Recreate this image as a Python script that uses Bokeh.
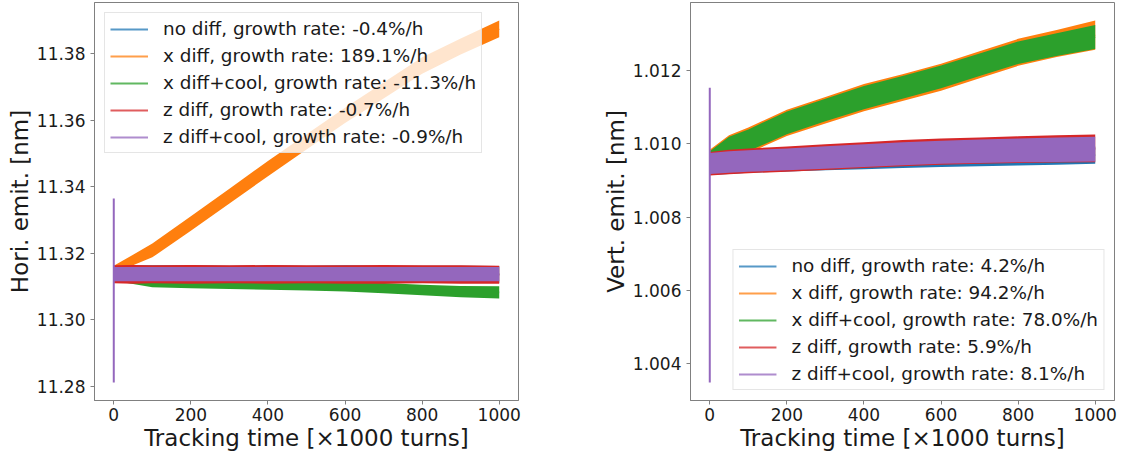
from bokeh.plotting import figure
from bokeh.models import Range1d, FixedTicker, PrintfTickFormatter, Legend, LegendItem
from bokeh.layouts import row
from bokeh.embed import file_html
from bokeh.resources import INLINE

# ---------------- data ----------------
t = [0, 50, 100, 200, 300, 400, 500, 600, 700, 800, 900, 1000]   # x1000 turns

labels_h = ["no diff, growth rate: -0.4%/h",
            "x diff, growth rate: 189.1%/h",
            "x diff+cool, growth rate: -11.3%/h",
            "z diff, growth rate: -0.7%/h",
            "z diff+cool, growth rate: -0.9%/h"]
labels_v = ["no diff, growth rate: 4.2%/h",
            "x diff, growth rate: 94.2%/h",
            "x diff+cool, growth rate: 78.0%/h",
            "z diff, growth rate: 5.9%/h",
            "z diff+cool, growth rate: 8.1%/h"]
colors = ["#1f77b4", "#ff7f0e", "#2ca02c", "#d62728", "#9467bd"]

# Horizontal emittance [nm]: lower / upper envelope of the noisy traces
blue_lo_h   = [11.3113, 11.3112, 11.3112, 11.3112, 11.3111, 11.3112, 11.3111, 11.3112, 11.3111, 11.3112, 11.3111, 11.3111]
blue_hi_h   = [11.3163, 11.3164, 11.3164, 11.3164, 11.3163, 11.3164, 11.3163, 11.3164, 11.3163, 11.3163, 11.3163, 11.3162]
orange_lo_h = [11.3153, 11.3164, 11.3188, 11.3268, 11.3350, 11.3432, 11.3512, 11.3592, 11.3666, 11.3740, 11.3798, 11.3850]
orange_hi_h = [11.3163, 11.3196, 11.3230, 11.3312, 11.3394, 11.3478, 11.3558, 11.3638, 11.3714, 11.3790, 11.3846, 11.3900]
green_lo_h  = [11.3118, 11.3108, 11.3098, 11.3095, 11.3093, 11.3091, 11.3088, 11.3085, 11.3080, 11.3074, 11.3068, 11.3064]
green_hi_h  = [11.3150, 11.3146, 11.3130, 11.3126, 11.3124, 11.3122, 11.3120, 11.3116, 11.3111, 11.3106, 11.3102, 11.3101]
red_lo_h    = [11.3110, 11.3109, 11.3110, 11.3109, 11.3110, 11.3109, 11.3110, 11.3109, 11.3109, 11.3110, 11.3109, 11.3109]
red_hi_h    = [11.3164, 11.3165, 11.3164, 11.3165, 11.3164, 11.3165, 11.3164, 11.3164, 11.3165, 11.3164, 11.3164, 11.3163]
purple_lo_h = [11.3116, 11.3116, 11.3116, 11.3116, 11.3116, 11.3116, 11.3116, 11.3116, 11.3116, 11.3116, 11.3116, 11.3116]
purple_hi_h = [11.3159, 11.3159, 11.3159, 11.3159, 11.3159, 11.3159, 11.3159, 11.3159, 11.3159, 11.3159, 11.3159, 11.3159]
spike_t = [0, 0]
spike_h = [11.2812, 11.3365]

# Vertical emittance [nm]
blue_lo_v   = [1.00915, 1.00918, 1.00921, 1.00925, 1.00928, 1.00931, 1.00934, 1.00937, 1.00939, 1.00941, 1.00943, 1.00946]
blue_hi_v   = [1.00972, 1.00973, 1.00975, 1.00977, 1.00979, 1.00981, 1.00983, 1.00985, 1.00987, 1.00989, 1.00991, 1.00993]
orange_lo_v = [1.00942, 1.00958, 1.00975, 1.01022, 1.01056, 1.01090, 1.01118, 1.01146, 1.01180, 1.01214, 1.01238, 1.01258]
orange_hi_v = [1.00984, 1.01024, 1.01045, 1.01094, 1.01129, 1.01164, 1.01191, 1.01220, 1.01254, 1.01288, 1.01312, 1.01338]
green_lo_v  = [1.00945, 1.00962, 1.00980, 1.01027, 1.01062, 1.01095, 1.01124, 1.01153, 1.01186, 1.01219, 1.01241, 1.01260]
green_hi_v  = [1.00980, 1.01020, 1.01040, 1.01089, 1.01124, 1.01159, 1.01186, 1.01215, 1.01248, 1.01281, 1.01303, 1.01326]
red_lo_v    = [1.00914, 1.00917, 1.00920, 1.00924, 1.00929, 1.00934, 1.00939, 1.00943, 1.00946, 1.00948, 1.00949, 1.00950]
red_hi_v    = [1.00978, 1.00984, 1.00988, 1.00993, 1.00999, 1.01005, 1.01011, 1.01015, 1.01018, 1.01021, 1.01024, 1.01026]
purple_lo_v = [1.00918, 1.00921, 1.00924, 1.00928, 1.00932, 1.00937, 1.00942, 1.00946, 1.00948, 1.00950, 1.00951, 1.00952]
purple_hi_v = [1.00975, 1.00980, 1.00983, 1.00988, 1.00994, 1.00999, 1.01005, 1.01009, 1.01012, 1.01015, 1.01018, 1.01020]
spike_v = [1.00347, 1.01154]

xticks = [0, 200, 400, 600, 800, 1000]
yticks_h = [11.28, 11.30, 11.32, 11.34, 11.36, 11.38]
yticks_v = [1.004, 1.006, 1.008, 1.010, 1.012]

FONT = "DejaVu Sans"
FRAME = "#808080"


def panel(width, border_left, border_right, bands, spike, labels, yticks, yfmt, ylabel, legend_loc):
    all_vals = [v for lo, hi in bands for v in lo + hi] + spike
    ymin, ymax = min(all_vals), max(all_vals)
    pad = 0.05 * (ymax - ymin)
    p = figure(width=width, height=457, output_backend="svg", toolbar_location=None,
               x_range=Range1d(-50, 1050), y_range=Range1d(ymin - pad, ymax + pad),
               min_border_left=border_left, min_border_right=border_right,
               min_border_top=2, min_border_bottom=57)
    p.background_fill_color = "white"
    p.border_fill_color = "white"
    p.outline_line_color = FRAME
    p.outline_line_width = 1
    p.xgrid.visible = False
    p.ygrid.visible = False

    items = []
    for (lo, hi), col, lab in zip(bands, colors, labels):
        mid = [(a + b) / 2 for a, b in zip(lo, hi)]
        r = p.line(t, mid, line_color=col, line_width=1.8, line_alpha=0.75)
        p.varea(x=t, y1=lo, y2=hi, fill_color=col, fill_alpha=1.0)
        items.append(LegendItem(label=lab, renderers=[r]))
    p.line(spike_t, spike, line_color=colors[4], line_width=2)

    p.xaxis.ticker = FixedTicker(ticks=xticks)
    p.yaxis.ticker = FixedTicker(ticks=yticks)
    p.yaxis.formatter = PrintfTickFormatter(format=yfmt)
    p.xaxis.axis_label = "Tracking time [\u00d71000 turns]"
    p.yaxis.axis_label = ylabel
    for ax in (p.xaxis[0], p.yaxis[0]):
        ax.axis_line_color = FRAME
        ax.major_tick_line_color = FRAME
        ax.major_tick_out = 4
        ax.major_tick_in = 0
        ax.minor_tick_line_color = None
        ax.major_label_text_font = FONT
        ax.major_label_text_font_size = "17px"
        ax.major_label_text_color = "#1a1a1a"
        ax.axis_label_text_font = FONT
        ax.axis_label_text_font_size = "23px"
        ax.axis_label_text_font_style = "normal"
        ax.axis_label_text_color = "#1a1a1a"
    p.xaxis.major_label_standoff = 3
    p.xaxis.axis_label_standoff = 1
    p.yaxis.major_label_standoff = 5
    p.yaxis.axis_label_standoff = 1

    leg = Legend(items=items, location=legend_loc)
    leg.label_text_font = FONT
    leg.label_text_font_size = "18.4px"
    leg.label_text_color = "#1a1a1a"
    leg.glyph_width = 38
    leg.glyph_height = 20
    leg.label_height = 20
    leg.label_standoff = 15
    leg.spacing = 6
    leg.padding = 5
    leg.margin = 10
    leg.border_line_color = "#cccccc"
    leg.border_line_width = 1
    leg.background_fill_color = "white"
    leg.background_fill_alpha = 0.8
    p.add_layout(leg)
    return p


bands_h = [(blue_lo_h, blue_hi_h), (orange_lo_h, orange_hi_h), (green_lo_h, green_hi_h),
           (red_lo_h, red_hi_h), (purple_lo_h, purple_hi_h)]
bands_v = [(blue_lo_v, blue_hi_v), (orange_lo_v, orange_hi_v), (green_lo_v, green_hi_v),
           (red_lo_v, red_hi_v), (purple_lo_v, purple_hi_v)]

p1 = panel(580, 94, 62, bands_h, spike_h, labels_h, yticks_h, "%.2f", "Hori. emit. [nm]", "top_left")
p2 = panel(547, 110, 13, bands_v, spike_v, labels_v, yticks_v, "%.3f", "Vert. emit. [nm]", "bottom_right")

layout = row(p1, p2)
open("out.html", "w").write(file_html(layout, INLINE))
